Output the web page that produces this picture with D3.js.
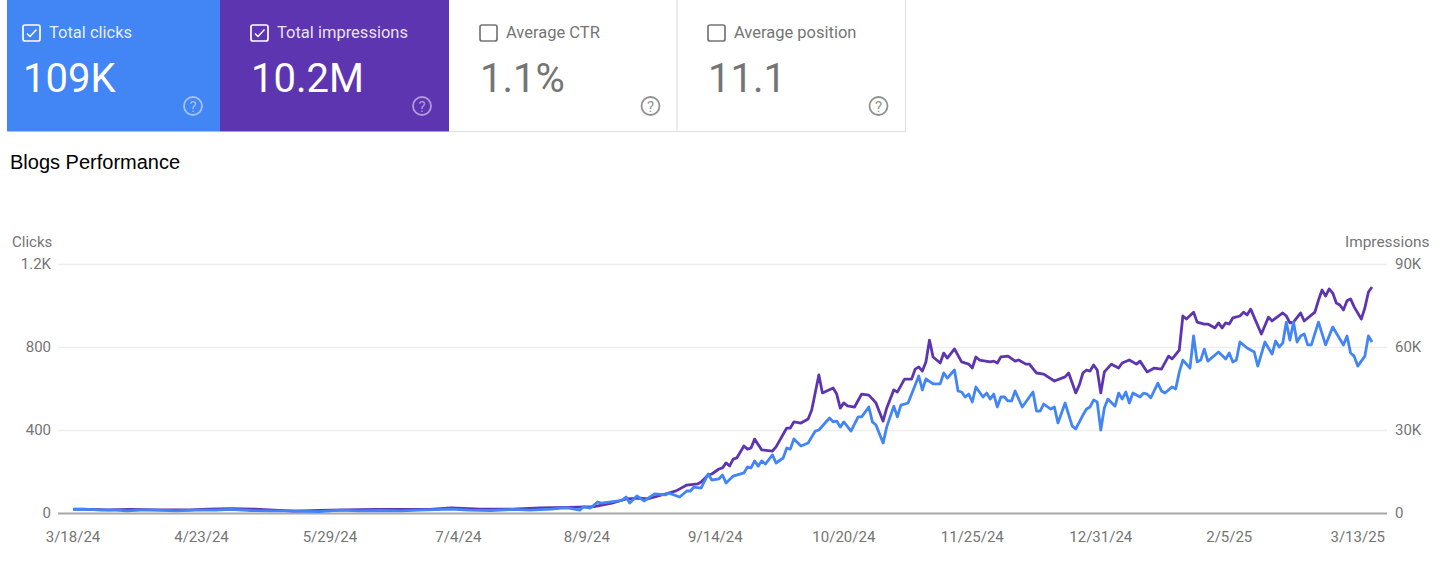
<!DOCTYPE html>
<html><head><meta charset="utf-8">
<script src="https://cdn.jsdelivr.net/npm/d3@7"></script>
<style>html,body{margin:0;padding:0;background:#fff}svg{display:block}text{font-family:Roboto,sans-serif}</style>
</head><body><div id="chart"></div>
<script>
const cardLabels = ["Total clicks","Total impressions","Average CTR","Average position"];
const cardValues = ["109K","10.2M","1.1%","11.1"];
const cardChecked = [true,true,false,false];
const chartTitle = "Blogs Performance";
const leftAxisTitle = "Clicks";
const rightAxisTitle = "Impressions";
const clickTicks = [0,400,800,1200];
const clickTickLabels = ["0","400","800","1.2K"];
const impressionTicks = [0,30000,60000,90000];
const impressionTickLabels = ["0","30K","60K","90K"];
const dateTicks = ["3/18/24","4/23/24","5/29/24","7/4/24","8/9/24","9/14/24","10/20/24","11/25/24","12/31/24","2/5/25","3/13/25"];

// days since 3/18/24, and thousands of impressions on those days
const impressionDays = [0,5,10,16,24,33,38,44,51,55,62,69,76,85,92,100,106,114,123,131,139,146,151,155,159,161,165,169,172,175,176,178,179,181,182,183,184,185,186,188,189,190,191,193,196,197,200,201,202,204,206,207,209,210,213,214,215,216,217,219,221,223,225,227,228,230,231,233,235,236,237,238,239,240,241,243,244,245,247,249,251,252,253,254,257,258,259,260,262,264,265,267,268,270,272,275,278,279,281,282,283,284,285,286,287,288,289,291,293,294,296,298,299,301,303,305,307,308,310,311,312,314,315,317,318,320,321,322,323,324,325,327,328,329,330,333,335,336,339,340,341,342,344,345,348,349,350,351,352,353,354,355,356,357,358,359,361,362,363,364];
const impressionThousands = [1.4,1.3,1.1,1.3,1.1,1.1,1.4,1.6,1.4,1.1,0.7,0.9,1.1,1.3,1.3,1.3,1.8,1.4,1.4,1.8,2.0,2.3,3.6,5.1,5.4,5.1,6.5,8.0,10.1,10.5,11.2,13.7,14.1,15.9,16.3,18.1,17.0,19.5,19.9,24.2,23.1,23.5,26.7,22.8,22.4,23.9,30.7,30.7,32.9,32.5,34.0,37.2,49.9,43.4,45.2,43.0,37.9,39.8,38.7,38.3,43.0,42.6,39.8,33.2,37.9,44.5,43.7,48.4,48.4,52.0,52.8,51.3,54.6,62.5,56.4,54.2,57.8,56.0,59.3,54.6,53.8,52.4,56.4,55.3,54.6,54.9,54.2,56.4,56.7,54.9,55.3,53.8,53.8,50.6,50.2,47.7,49.2,50.6,43.4,46.3,50.6,51.7,51.3,53.5,51.7,43.4,51.0,53.8,52.4,54.2,55.3,53.8,54.9,51.0,52.4,52.0,56.7,55.7,58.9,71.2,70.1,72.6,69.0,68.3,68.3,66.9,68.7,66.9,68.7,68.3,70.5,71.2,72.6,71.6,73.7,64.7,70.8,69.4,72.3,71.2,68.7,69.0,72.3,69.4,72.6,76.9,80.6,78.4,81.0,79.5,75.9,75.2,73.4,76.7,77.4,74.5,70.1,74.1,79.9,81.7];

// days since 3/18/24, and clicks on those days
const clickDays = [0,3,8,12,15,19,23,29,34,40,44,50,55,61,69,75,80,86,92,97,106,111,117,123,128,134,137,139,142,143,145,147,148,153,154,155,156,158,160,163,166,167,170,172,173,174,176,178,179,181,182,183,185,188,189,190,191,192,193,194,196,197,199,200,201,202,204,206,208,209,212,213,214,215,216,218,220,221,223,224,225,227,228,230,231,232,234,237,238,239,241,243,244,245,247,248,249,250,251,252,253,255,256,257,258,259,260,261,262,263,264,266,269,270,271,272,274,275,276,278,280,281,283,284,285,286,287,288,289,290,292,293,294,295,296,297,299,300,301,302,304,305,306,308,309,310,311,313,314,315,316,317,318,321,323,324,325,326,327,329,331,332,334,336,337,338,339,340,341,342,343,344,345,346,347,349,351,353,356,357,358,359,360,362,363,364];
const clickCounts = [17,19,14,14,10,14,14,10,14,14,17,12,10,10,7,14,10,12,10,14,19,14,12,17,14,19,24,24,14,29,24,53,48,58,63,77,48,82,58,92,87,96,77,106,106,125,120,188,159,164,183,145,178,193,222,217,251,226,251,236,280,241,265,313,308,357,323,337,395,400,458,439,443,414,439,395,463,463,511,439,424,337,414,515,463,520,530,660,593,646,622,622,675,650,689,588,583,559,573,535,607,559,578,549,573,511,559,559,540,540,588,511,583,491,491,525,501,511,434,530,419,405,472,501,511,545,535,400,506,549,515,578,549,583,530,578,559,578,573,555,626,588,578,608,598,679,737,698,853,728,737,790,732,776,742,771,728,737,824,795,776,708,824,766,829,800,819,920,833,920,824,853,863,810,810,920,810,896,810,853,771,756,708,756,853,824];

const W = 1442, H = 571, BLUE = "#4285f4", PURPLE = "#5e35b1", GREY = "#757575", GRID = "#eeeeee";
const svg = d3.select("#chart").append("svg").attr("width", W).attr("height", H);

// Metric cards
const cardX = [7,220,449,677], cardW = [213,229,228,228], cardH = 131.5;
const cardFill = [BLUE, PURPLE, "#fff", "#fff"];
cardLabels.forEach((label, i) => {
  const x = cardX[i], on = cardChecked[i], g = svg.append("g").attr("transform", `translate(${x},0)`);
  const ink = on ? "#fff" : GREY;
  g.append("rect").attr("width", cardW[i]).attr("height", cardH).attr("fill", cardFill[i]);
  const left = i === 0 ? 16 : 31;
  g.append("rect").attr("x", left).attr("y", 25).attr("width", 17).attr("height", 16)
    .attr("rx", 2).attr("fill", "none").attr("stroke", ink).attr("stroke-width", 1.7);
  if (on) g.append("path").attr("d", `M${left+4},33.5 l3,3 l6.5,-7`).attr("fill", "none").attr("stroke", ink).attr("stroke-width", 1.5);
  g.append("text").attr("x", left + 26).attr("y", 38).attr("font-size", 16.5).attr("fill", ink).attr("fill-opacity", on ? .88 : 1).text(label);
  g.append("text").attr("x", left).attr("y", 92).attr("font-size", 40).attr("fill", ink).text(cardValues[i]);
  const hx = cardW[i] - 27 + (i >= 2 ? 0.5 : 0);
  g.append("circle").attr("cx", hx).attr("cy", 106).attr("r", 9).attr("fill", "none").attr("stroke", ink).attr("stroke-opacity", on ? .5 : .8).attr("stroke-width", 1.8);
  g.append("text").attr("x", hx).attr("y", 111.5).attr("text-anchor", "middle").attr("font-size", 15).attr("fill", ink).attr("fill-opacity", on ? .5 : .8).text("?");
});
svg.append("path").attr("d", `M449,131.5H905.5V0M677,0V131.5`).attr("fill", "none").attr("stroke", "#e0e0e0").attr("stroke-width", 1.2);

svg.append("text").attr("x", 10).attr("y", 169).attr("font-size", 20).style("font-family", "'Liberation Sans',Arial,sans-serif").attr("fill", "#000").text(chartTitle);

// Scales
const parse = d3.timeParse("%-m/%-d/%y"), start = parse(dateTicks[0]);
const dayToDate = d => d3.timeDay.offset(start, d);
const x = d3.scaleTime().domain([start, dayToDate(364)]).range([73, 1372]);
const yClicks = d3.scaleLinear().domain([0,1200]).range([513,264]);
const yImpr = d3.scaleLinear().domain([0,90000]).range([513,264]);

// Axes
const leftAxis = d3.axisLeft(yClicks).tickValues(clickTicks).tickSize(0).tickPadding(0)
  .tickFormat((d,i) => clickTickLabels[i]);
const gl = svg.append("g").attr("transform", "translate(51,0)").call(leftAxis);
const rightAxis = d3.axisRight(yImpr).tickValues(impressionTicks).tickSize(0).tickPadding(0)
  .tickFormat((d,i) => impressionTickLabels[i]);
const gr = svg.append("g").attr("transform", "translate(1395,0)").call(rightAxis);
const grid = d3.axisLeft(yClicks).tickValues(clickTicks).tickSize(-(1387-58)).tickFormat("");
const gg = svg.append("g").attr("transform", "translate(58,0)").call(grid);
gg.select(".domain").remove();
gg.selectAll("line").attr("stroke", d => d === 0 ? "#a8a8a8" : GRID).attr("stroke-width", d => d === 0 ? 2 : 1.6);
const bottom = d3.axisBottom(x).tickValues(dateTicks.map(parse)).tickSize(0).tickPadding(0)
  .tickFormat((d,i) => dateTicks[i]);
const gb = svg.append("g").attr("transform", "translate(-0.5,531)").call(bottom);
[gl, gr, gb].forEach(g => {
  g.select(".domain").remove();
  g.selectAll("text").attr("font-size", 15).attr("fill", GREY).style("font-family", "Roboto,sans-serif");
});
svg.append("text").attr("x", 12).attr("y", 247).attr("font-size", 15).attr("fill", GREY).text(leftAxisTitle);
svg.append("text").attr("x", 1345).attr("y", 247).attr("font-size", 15.4).attr("fill", GREY).text(rightAxisTitle);

// Lines
const lineImpr = d3.line().x(d => x(dayToDate(d.day))).y(d => yImpr(d.value * 1000));
const lineClicks = d3.line().x(d => x(dayToDate(d.day))).y(d => yClicks(d.value));
svg.append("path").datum(impressionDays.map((day,i) => ({day, value: impressionThousands[i]})))
  .attr("d", lineImpr).attr("fill", "none").attr("stroke", PURPLE).attr("stroke-width", 2.8).attr("stroke-linejoin", "round");
svg.append("path").datum(clickDays.map((day,i) => ({day, value: clickCounts[i]})))
  .attr("d", lineClicks).attr("fill", "none").attr("stroke", BLUE).attr("stroke-width", 2.8).attr("stroke-linejoin", "round");
</script></body></html>
